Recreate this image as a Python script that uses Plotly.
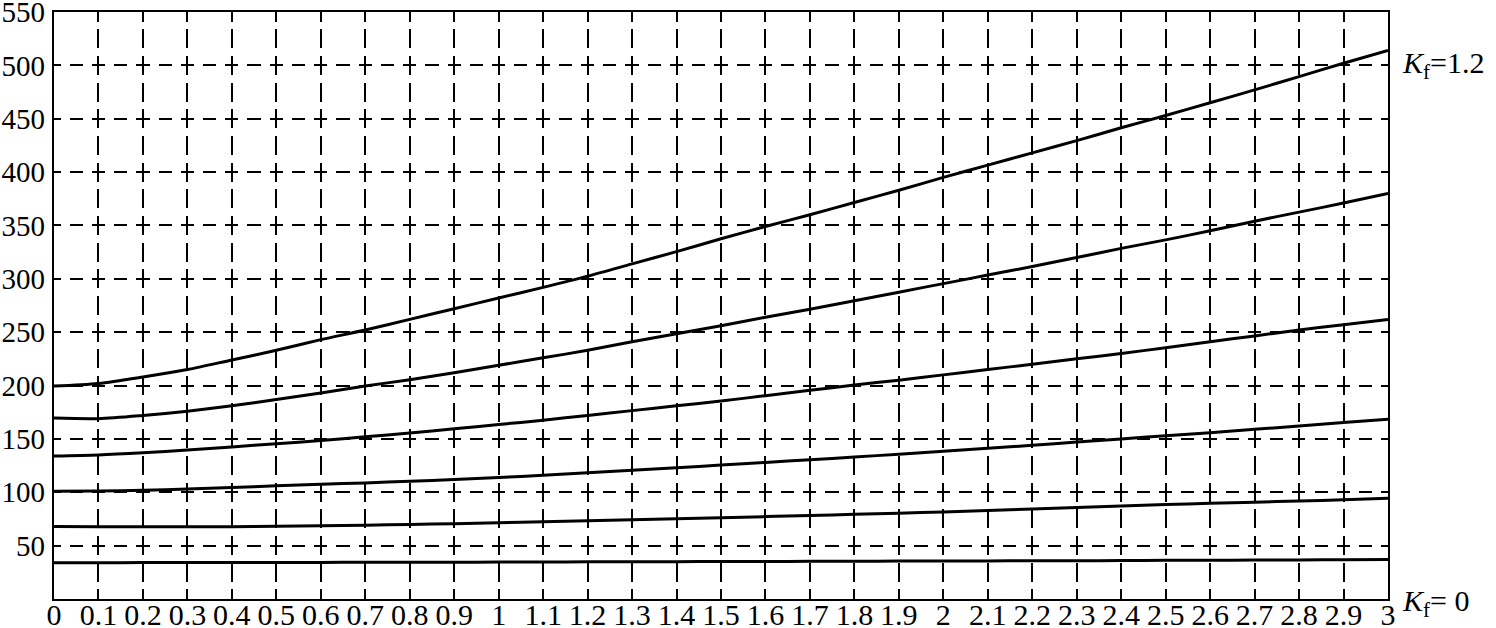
import plotly.graph_objects as go

# ---- data ----
x_vals = [round(0.1 * i, 1) for i in range(31)]
x_tick_labels = ["0", "0.1", "0.2", "0.3", "0.4", "0.5", "0.6", "0.7", "0.8", "0.9",
                 "1", "1.1", "1.2", "1.3", "1.4", "1.5", "1.6", "1.7", "1.8", "1.9",
                 "2", "2.1", "2.2", "2.3", "2.4", "2.5", "2.6", "2.7", "2.8", "2.9", "3"]
y_tick_vals = [50, 100, 150, 200, 250, 300, 350, 400, 450, 500, 550]

curve_kf_1_2 = [199.5, 202, 208, 215, 224, 233, 243, 252, 262, 272,
                282, 292, 302.5, 314, 325.5, 337.5, 349, 360, 371.5, 383,
                395, 406.5, 418, 429.5, 441.5, 453, 465, 477, 489.5, 502, 514]
curve_2 = [169.5, 169, 172, 176, 181, 187, 193, 199.5, 205.5, 212,
           219, 226, 233, 241, 248.5, 256, 264, 271.5, 279.5, 287.5,
           295.5, 303.5, 311.5, 320, 328.5, 336.5, 345, 354, 362.5, 371, 380]
curve_3 = [134, 135, 137, 139.5, 142.5, 145.5, 148.5, 152, 155.5, 159.5,
           163.5, 167.5, 172, 176.5, 181, 185.5, 190.5, 195.5, 200.5, 205,
           210, 215, 220, 225, 230, 235.5, 241, 246.5, 252, 257, 262]
curve_4 = [101, 101.2, 101.8, 103, 104.5, 106, 107.5, 108.8, 110.3, 112,
           113.8, 116, 118.3, 120.7, 123, 125.5, 128, 130.5, 133, 135.7,
           138.5, 141.2, 144, 147, 150, 153, 155.8, 159, 162, 165.3, 168.5]
curve_5 = [68, 67.8, 67.7, 67.7, 67.8, 68.2, 68.6, 69.2, 69.8, 70.6,
           71.4, 72.3, 73.3, 74.3, 75.2, 76.2, 77.2, 78.2, 79.3, 80.4,
           81.6, 82.9, 84.3, 85.8, 87.2, 88.5, 89.6, 90.7, 91.8, 93, 94.3]
curve_kf_0 = [34.0, 34.0, 34.1, 34.1, 34.2, 34.2, 34.3, 34.4, 34.4, 34.5,
              34.6, 34.7, 34.8, 34.9, 35.0, 35.1, 35.2, 35.3, 35.4, 35.5,
              35.6, 35.7, 35.8, 35.9, 36.0, 36.2, 36.3, 36.5, 36.6, 36.8, 37.0]

curves = [curve_kf_1_2, curve_2, curve_3, curve_4, curve_5, curve_kf_0]
label_top = "<i>K</i><sub>f</sub>=1.2"
label_bottom = "<i>K</i><sub>f</sub>= 0"

FONT = "Liberation Serif, Times New Roman, serif"

fig = go.Figure()
for c in curves:
    fig.add_trace(go.Scatter(x=x_vals, y=c, mode="lines",
                             line=dict(color="black", width=3, shape="spline", smoothing=0.8),
                             showlegend=False, hoverinfo="skip"))

fig.update_layout(
    width=1496, height=628,
    margin=dict(l=54, r=108, t=12, b=29, autoexpand=False),
    paper_bgcolor="white", plot_bgcolor="white",
    font=dict(family=FONT, size=30, color="black"),
    showlegend=False,
)
fig.update_xaxes(
    range=[0, 3], tickmode="array", tickvals=x_vals, ticktext=x_tick_labels,
    tickangle=0, ticks="", showgrid=True, gridcolor="black", gridwidth=1.6,
    griddash="9.5px,7.68px,9.5px,0px",
    showline=True, linecolor="black", linewidth=2.2, mirror=True,
    zeroline=False, tickfont=dict(family=FONT, size=30, color="black"),
    ticklabelstandoff=-12, automargin=False, ticklabeloverflow="allow",
)
fig.update_yaxes(
    range=[0, 550], tickmode="array", tickvals=y_tick_vals,
    ticks="", showgrid=True, gridcolor="black", gridwidth=1.6,
    griddash="6.6px,9.03px,6.6px,0px",
    showline=True, linecolor="black", linewidth=2.2, mirror=True,
    zeroline=False, tickfont=dict(family=FONT, size=29, color="black"),
    ticklabelstandoff=1, automargin=False, ticklabeloverflow="allow",
)

fig.add_annotation(x=1, xref="paper", y=500, yref="y", text=label_top,
                   showarrow=False, xanchor="left", yanchor="middle", xshift=12,
                   font=dict(family=FONT, size=30, color="black"))
fig.add_annotation(x=1, xref="paper", y=0, yref="y", text=label_bottom,
                   showarrow=False, xanchor="left", yanchor="middle", xshift=12, yshift=-4,
                   font=dict(family=FONT, size=30, color="black"))

fig.write_html("out.html", config={"displayModeBar": False},
               post_script="document.body.style.margin='0';document.body.style.overflow='hidden';")
